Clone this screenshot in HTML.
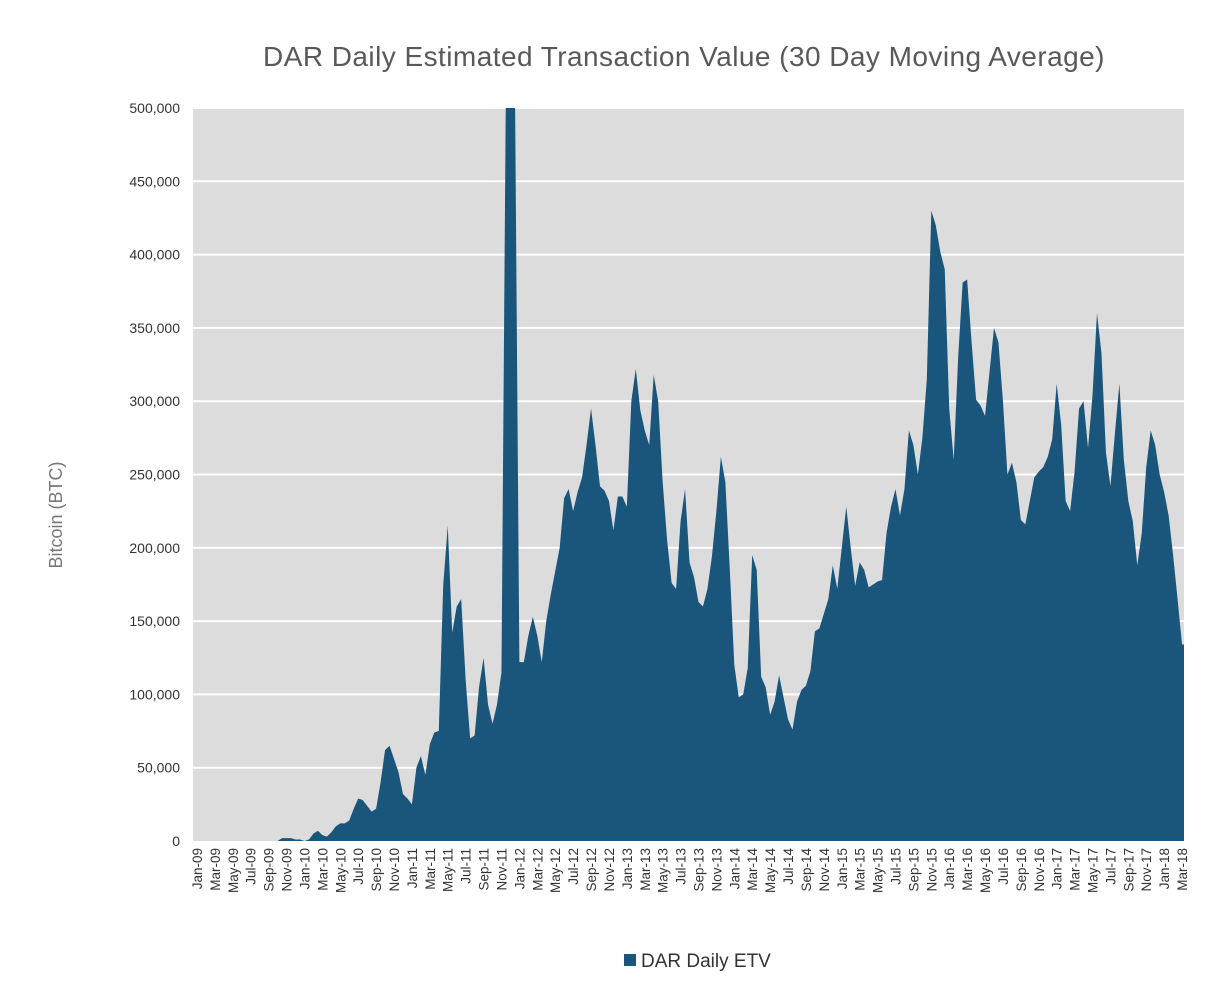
<!DOCTYPE html>
<html><head><meta charset="utf-8">
<style>
body{margin:0;background:#fff;}
svg{display:block;font-family:"Liberation Sans",Arial,sans-serif;}
</style></head>
<body>
<svg id="chart" width="1214" height="1005" viewBox="0 0 1214 1005" xmlns="http://www.w3.org/2000/svg">
<text x="684" y="66" text-anchor="middle" font-size="28" letter-spacing="0.45" fill="#595959">DAR Daily Estimated Transaction Value (30 Day Moving Average)</text>
<rect x="193" y="108" width="991" height="733" fill="#dcdcdc"/>
<g id="grid"></g>
<g id="series"></g>
<g id="yticks"></g>
<g id="xticks"></g>
<text transform="translate(62,515) rotate(-90)" text-anchor="middle" font-size="18" fill="#777">Bitcoin (BTC)</text>
<g>
<rect x="624" y="954" width="12" height="12" fill="#1a557b"/>
<text x="641" y="967" font-size="19" fill="#333">DAR Daily ETV</text>
</g>
</svg>
<script>
// half-month samples starting Jan 2009, thousands of BTC
const etvValues = [0,0,0,0,0,0,0,0,0,0,0,0,0,0,0,0,0,0,0,2,2,2,1,1,0,1,5,7,4,3,6,10,12,12,14,22,29,28,24,20,22,40,62,65,56,47,32,29,25,50,58,45,66,74,75,175,215,142,160,165,110,70,72,105,125,93,80,93,115,520,520,520,122,122,140,153,140,122,150,168,184,200,234,240,225,238,248,270,295,270,242,239,232,212,235,235,228,300,322,294,280,270,318,300,245,205,176,172,218,240,190,180,163,160,172,194,225,262,245,185,120,98,100,118,195,185,112,105,86,95,113,98,83,76,95,103,106,116,143,145,155,165,188,172,200,228,200,174,190,185,173,175,177,178,210,228,240,222,240,280,270,250,275,315,430,420,402,390,295,260,330,381,383,340,301,297,290,320,350,340,300,250,258,245,219,216,232,248,252,255,262,274,312,284,232,225,252,295,300,268,304,360,333,265,242,278,312,260,232,218,188,210,255,280,270,250,238,222,195,165,134,134];
const yTickValues = [0,50,100,150,200,250,300,350,400,450,500];
const yTickLabels = ["0","50,000","100,000","150,000","200,000","250,000","300,000","350,000","400,000","450,000","500,000"];
const monthNames = ["Jan","Mar","May","Jul","Sep","Nov"];
const startYear = 9, endYear = 18;

const NS="http://www.w3.org/2000/svg";
const PL=193, PR=1184, PT=108, PB=841;
function yScale(v){return PB - v/500*(PB-PT);}
function xScale(m){return 197 + m*8.955;}
function mk(tag,attrs,parent){const e=document.createElementNS(NS,tag);for(const k in attrs)e.setAttribute(k,attrs[k]);parent.appendChild(e);return e;}

const grid=document.getElementById('grid'), yt=document.getElementById('yticks');
yTickValues.forEach((v,i)=>{
  if(v>0){const l=mk('line',{x1:PL,x2:PR,y1:yScale(v),y2:yScale(v),stroke:'#fff','stroke-width':2},grid);
  
  }
  const t=mk('text',{x:180,y:yScale(v)+5,'text-anchor':'end','font-size':14,fill:'#333'},yt);
  t.textContent=yTickLabels[i];
  
  
});

const xt=document.getElementById('xticks');
let idx=0;
for(let y=startYear;y<=endYear;y++){
  for(let k=0;k<6;k++){
    if(y===endYear && k>1) break;
    const m=idx*2, x=xScale(m);
    const t=mk('text',{transform:`translate(${x+5},848) rotate(-90)`,'text-anchor':'end','font-size':13.5,fill:'#333'},xt);
    t.textContent=monthNames[k]+'-'+String(y).padStart(2,'0');
    
    
    idx++;
  }
}

const ser=document.getElementById('series');
const defs=mk('defs',{},ser);
const cp=mk('clipPath',{id:'pc'},defs);
mk('rect',{x:PL,y:PT,width:PR-PL,height:PB-PT},cp);
let d=`M${PL},${PB}`;
etvValues.forEach((v,i)=>{const x=Math.max(PL,Math.min(PR,xScale(i/2)));d+=` L${x.toFixed(2)},${yScale(v).toFixed(2)}`;});
d+=` L${PR},${yScale(etvValues[etvValues.length-1]).toFixed(2)} L${PR},${PB} Z`;
const area=mk('path',{d:d,fill:'#1a557b','clip-path':'url(#pc)'},ser);


</script>
</body></html>
